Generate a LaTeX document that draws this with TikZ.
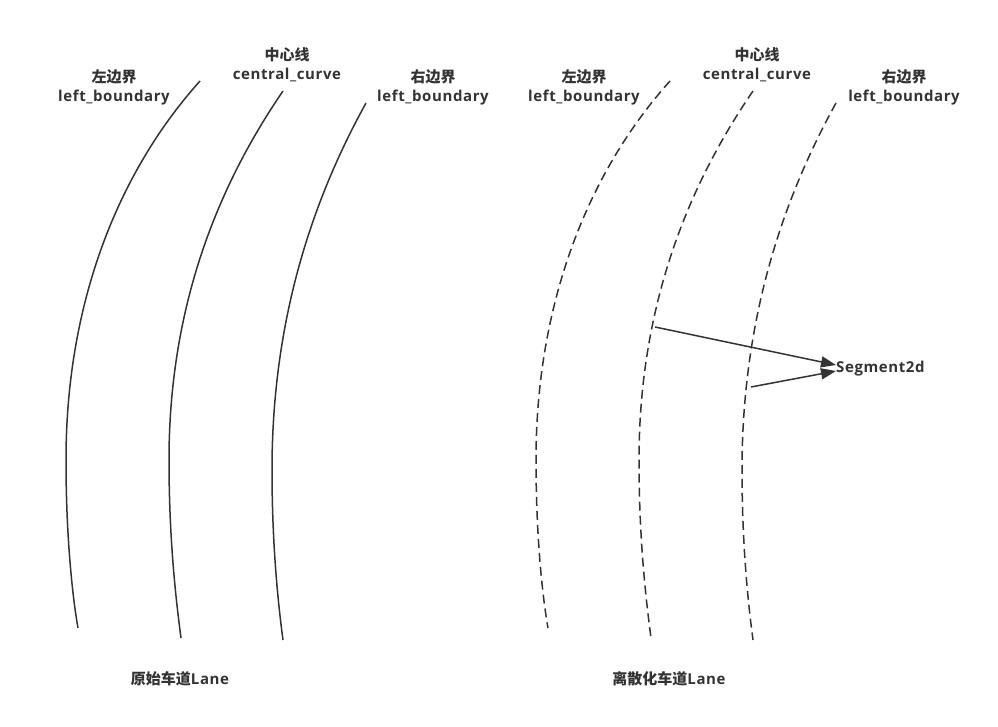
\documentclass[tikz,border=0pt]{standalone}
\usepackage{fontspec}
\setmainfont[LetterSpace=4]{Open Sans}
\newfontfamily\cjk{Noto Sans CJK SC}
\usetikzlibrary{arrows.meta}
\definecolor{ink}{HTML}{333333}
\newcommand{\lbound}{(200,81) .. controls (120,170) and (66,300) .. (66,460) .. controls (66,540) and (73,600) .. (78,628)}
\newcommand{\ccurve}{(283,91) .. controls (222,180) and (169,300) .. (169,460) .. controls (169,540) and (176,600) .. (181,638)}
\newcommand{\rbound}{(366,103) .. controls (318,190) and (272,310) .. (272,470) .. controls (272,550) and (279,610) .. (283,640)}
\begin{document}
\begin{tikzpicture}[x=1pt,y=-1pt,
  curve/.style={ink, line width=1.5pt},
  dcurve/.style={curve, dash pattern=on 9pt off 5pt},
  lbl/.style={font=\bfseries\fontsize{15}{19}\selectfont, text=ink, align=center, inner sep=0pt},
  arr/.style={ink, line width=1.5pt, -{Triangle[length=15pt,width=11pt]}}]
\useasboundingbox (0,0) rectangle (998,727);
% original lane
\draw[curve] \lbound;
\draw[curve] \ccurve;
\draw[curve] \rbound;
% discretized lane
\begin{scope}[xshift=470pt]
\draw[dcurve] \lbound;
\draw[dcurve] \ccurve;
\draw[dcurve] \rbound;
\end{scope}
% labels
\node[lbl] (l1) at (114,87) {{\cjk 左边界}\\left\_boundary};
\node[lbl] (c1) at (287,65) {{\cjk 中心线}\\central\_curve};
\node[lbl] (r1) at (433,87) {{\cjk 右边界}\\left\_boundary};
\node[lbl] (l2) at (584,87) {{\cjk 左边界}\\left\_boundary};
\node[lbl] (c2) at (757,65) {{\cjk 中心线}\\central\_curve};
\node[lbl] (r2) at (904,87) {{\cjk 右边界}\\left\_boundary};
\node[lbl] (t1) at (180,679) {{\cjk 原始车道}Lane};
\node[lbl] (t2) at (669,679) {{\cjk 离散化车道}Lane};
\node[lbl, anchor=west] (seg) at (836,369) {Segment2d};
\coordinate (p1) at (655,327);
\coordinate (p2) at (751,387);
\draw[arr] (p1) -- ([yshift=4pt]seg.west);
\draw[arr] (p2) -- ([yshift=-2pt]seg.west);
\end{tikzpicture}
\end{document}
